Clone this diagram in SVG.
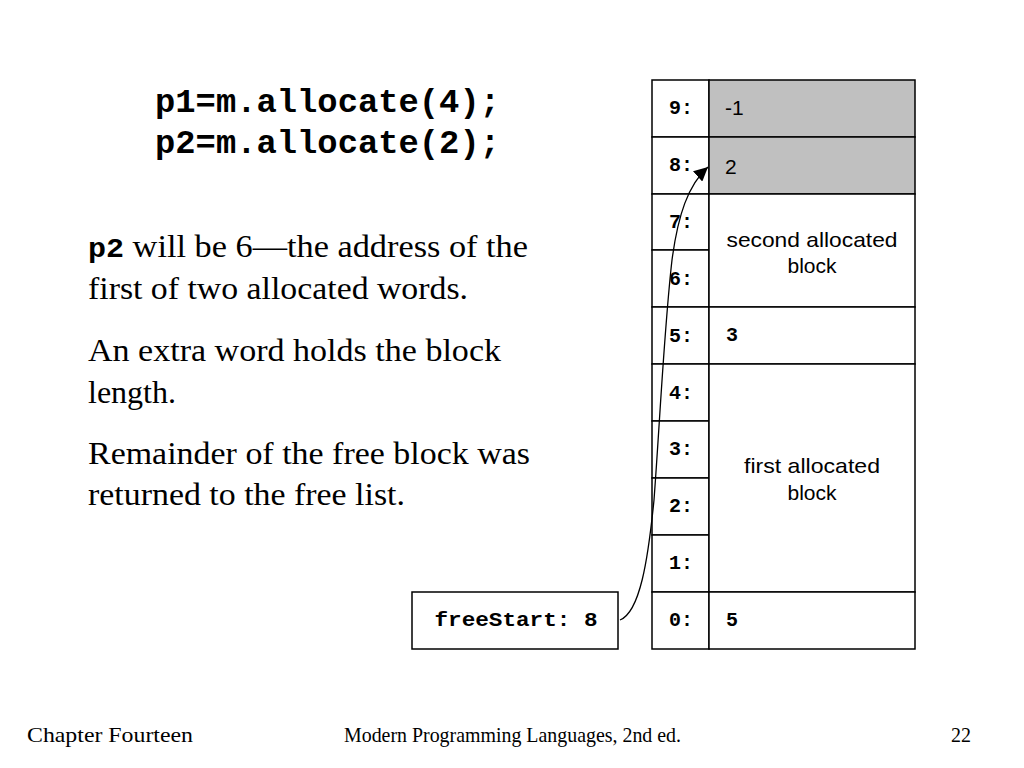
<svg xmlns="http://www.w3.org/2000/svg" width="1024" height="768" viewBox="0 0 1024 768">
<style>
.cell{fill:#fff;stroke:#000;stroke-width:1.5}
.gray{fill:#c0c0c0;stroke:#000;stroke-width:1.5}
.mono{font-family:"Liberation Mono","Courier New",monospace;font-weight:bold;fill:#000}
.sans{font-family:"Liberation Sans",Arial,sans-serif;fill:#000}
.serif{font-family:"Liberation Serif","Times New Roman",serif;fill:#000}
.idx{font-size:20px;text-anchor:middle}
</style>
<defs>
<marker id="ah" viewBox="0 0 10 10" refX="10" refY="5" markerWidth="14" markerHeight="14" markerUnits="userSpaceOnUse" orient="auto">
<path d="M0,0 L10,5 L0,10 z" fill="#000"/>
</marker>
</defs>
<rect width="1024" height="768" fill="#fff"/>
<g id="code">
<text class="mono" x="155" y="112" font-size="33" textLength="345" lengthAdjust="spacingAndGlyphs">p1=m.allocate(4);</text>
<text class="mono" x="155" y="153" font-size="33" textLength="345" lengthAdjust="spacingAndGlyphs">p2=m.allocate(2);</text>
</g>
<g id="body">
<text class="serif" x="88" y="257" font-size="32" textLength="440" lengthAdjust="spacingAndGlyphs"><tspan class="mono" font-size="28">p2</tspan> will be 6—the address of the</text>
<text class="serif" x="88" y="299" font-size="32" textLength="380" lengthAdjust="spacingAndGlyphs">first of two allocated words.</text>
<text class="serif" x="88" y="361" font-size="32" textLength="413" lengthAdjust="spacingAndGlyphs">An extra word holds the block</text>
<text class="serif" x="88" y="403" font-size="32">length.</text>
<text class="serif" x="88" y="464" font-size="32" textLength="442" lengthAdjust="spacingAndGlyphs">Remainder of the free block was</text>
<text class="serif" x="88" y="505" font-size="32" textLength="317" lengthAdjust="spacingAndGlyphs">returned to the free list.</text>
</g>
<g id="memory">
<rect class="cell" x="652" y="80" width="57" height="57"/>
<rect class="cell" x="652" y="137" width="57" height="57"/>
<rect class="cell" x="652" y="194" width="57" height="56"/>
<rect class="cell" x="652" y="250" width="57" height="57"/>
<rect class="cell" x="652" y="307" width="57" height="57"/>
<rect class="cell" x="652" y="364" width="57" height="57"/>
<rect class="cell" x="652" y="421" width="57" height="57"/>
<rect class="cell" x="652" y="478" width="57" height="57"/>
<rect class="cell" x="652" y="535" width="57" height="57"/>
<rect class="cell" x="652" y="592" width="57" height="57"/>
<rect class="gray" x="709" y="80" width="206" height="57"/>
<rect class="gray" x="709" y="137" width="206" height="57"/>
<rect class="cell" x="709" y="194" width="206" height="113"/>
<rect class="cell" x="709" y="307" width="206" height="57"/>
<rect class="cell" x="709" y="364" width="206" height="228"/>
<rect class="cell" x="709" y="592" width="206" height="57"/>
<text class="mono idx" x="681" y="114">9:</text>
<text class="mono idx" x="681" y="171">8:</text>
<text class="mono idx" x="681" y="228">7:</text>
<text class="mono idx" x="681" y="285">6:</text>
<text class="mono idx" x="681" y="342">5:</text>
<text class="mono idx" x="681" y="399">4:</text>
<text class="mono idx" x="681" y="455">3:</text>
<text class="mono idx" x="681" y="512">2:</text>
<text class="mono idx" x="681" y="569">1:</text>
<text class="mono idx" x="681" y="626">0:</text>
<text class="sans" x="725" y="115" font-size="21">-1</text>
<text class="sans" x="725" y="174" font-size="21">2</text>
<text class="sans" x="812" y="247" font-size="21" text-anchor="middle" textLength="171" lengthAdjust="spacingAndGlyphs">second allocated</text>
<text class="sans" x="812" y="273" font-size="21" text-anchor="middle">block</text>
<text class="mono" x="726" y="341" font-size="20">3</text>
<text class="sans" x="812" y="473" font-size="21" text-anchor="middle" textLength="136" lengthAdjust="spacingAndGlyphs">first allocated</text>
<text class="sans" x="812" y="500" font-size="21" text-anchor="middle">block</text>
<text class="mono" x="726" y="626" font-size="20">5</text>
</g>
<g id="freeStart">
<rect class="cell" x="412" y="592" width="206" height="57"/>
<text class="mono" x="516" y="626" font-size="20" text-anchor="middle" textLength="163" lengthAdjust="spacingAndGlyphs">freeStart: 8</text>
</g>
<g id="connectors">
<path d="M620,620 C640,612 648,560 654,500 C660,420 664,330 672,260 C678,215 688,185 708,167" fill="none" stroke="#000" stroke-width="1.3" marker-end="url(#ah)"/>
</g>
<g id="footer">
<text class="serif" x="27" y="742" font-size="21" textLength="166" lengthAdjust="spacingAndGlyphs">Chapter Fourteen</text>
<text class="serif" x="344" y="742" font-size="21" textLength="337" lengthAdjust="spacingAndGlyphs">Modern Programming Languages, 2nd ed.</text>
<text class="serif" x="951" y="742" font-size="21" textLength="20" lengthAdjust="spacingAndGlyphs">22</text>
</g>
</svg>
